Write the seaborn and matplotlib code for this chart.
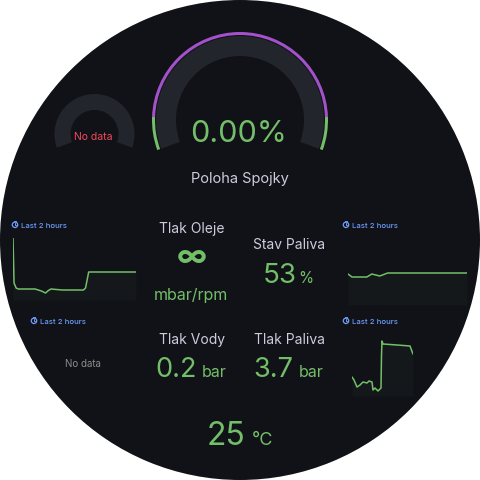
import numpy as np
import pandas as pd
import matplotlib
matplotlib.use("Agg")
import matplotlib.pyplot as plt
import seaborn as sns
from matplotlib.patches import Wedge, Circle

# ---- data -------------------------------------------------------------
clutch_value = 0.0          # Poloha Spojky, %
clutch_min, clutch_max = 0, 100
clutch_thresholds = [0, 10, 90]          # step starts
clutch_colors = ["#73bf69", "#a352cc", "#73bf69"]

oil_t = [3, 4, 6, 8, 24, 30, 34, 36, 39, 50, 70, 72, 75, 120]
oil_v = [62, 17, 12, 11, 11, 9, 7, 9, 11, 10, 10, 12, 28, 28]

fuel_t = [0, 4, 19, 24, 32, 40, 120]
fuel_v = [31, 28, 28, 31, 29, 32, 32]

fuelp_t = [0, 2, 5, 8, 11, 15, 17, 20, 21, 23, 26, 27, 29, 29.5, 30, 31, 45, 58, 61]
fuelp_v = [19, 16, 9, 11, 14, 13, 15, 14, 6, 8, 5, 6, 8, 41, 55, 52, 51, 50, 42]

stat_titles = ["Tlak Oleje", "Stav Paliva", "Tlak Vody", "Tlak Paliva"]
stat_values = ["∞", "53", "0.2", "3.7"]
stat_units = ["mbar/rpm", "%", "bar", "bar"]
temp_value, temp_unit = "25", "°C"

# ---- style ------------------------------------------------------------
BG = "#111217"
TRACK = "#22252b"
GREEN = "#73bf69"
TEXT = "#ccccdc"
BLUE = "#6e9fff"
RED = "#f2495c"

sns.set_theme(style="dark")
plt.rcParams["font.family"] = ["Inter", "DejaVu Sans"]

W = H = 480
fig = plt.figure(figsize=(4.8, 4.8), dpi=100, facecolor="white")
ax = fig.add_axes([0, 0, 1, 1])
ax.set_xlim(0, W)
ax.set_ylim(H, 0)
ax.axis("off")
ax.add_patch(Circle((240, 240), 240, color=BG, zorder=0))


def px_rect(x0, y0, x1, y1):
    return [x0 / W, 1 - y1 / H, (x1 - x0) / W, (y1 - y0) / H]


def gauge(cx, cy, r, track_w, start=-20, end=200, band=None, value=None):
    # angles are visual (ccw, y up); axis y is inverted so negate
    def ang(v):
        return end - (v - clutch_min) / (clutch_max - clutch_min) * (end - start)

    inner_r = r
    if band:
        bounds = clutch_thresholds + [clutch_max]
        for i, col in enumerate(clutch_colors):
            a0, a1 = ang(bounds[i]), ang(bounds[i + 1])
            ax.add_patch(Wedge((cx, cy), r, -a0, -a1, width=band, color=col, lw=0))
        inner_r = r - band - 1
    ax.add_patch(Wedge((cx, cy), inner_r, -end, -start, width=track_w, color=TRACK, lw=0))
    if value is not None and value > clutch_min:
        ax.add_patch(Wedge((cx, cy), inner_r, -ang(clutch_min), -ang(value),
                           width=track_w, color=GREEN, lw=0))


def sparkline(box, t, v, ymax, xmax):
    sax = fig.add_axes(px_rect(*box))
    sax.patch.set_alpha(0)
    df = pd.DataFrame({"t": t, "v": v})
    sns.lineplot(data=df, x="t", y="v", ax=sax, color=GREEN, lw=1.1)
    sax.fill_between(t, v, 0, color=GREEN, alpha=0.04, lw=0)
    sax.set_xlim(min(t), xmax)
    sax.set_ylim(0, ymax)
    sax.axis("off")


def last2h(x, y):
    # clock icon (no installed font has the stopwatch glyph)
    ax.add_patch(Circle((x + 3, y - 3.2), 2.7, fill=False, ec=BLUE, lw=0.9))
    ax.plot([x + 3, x + 3, x + 4.3], [y - 4.8, y - 3.2, y - 3.2], color=BLUE, lw=0.7)
    ax.plot([x + 2.2, x + 3.8], [y - 6.6, y - 6.6], color=BLUE, lw=0.7)
    ax.text(x + 9, y, "Last 2 hours", color=BLUE, fontsize=5.6, va="baseline", ha="left",
            fontweight="medium")


# ---- gauges -----------------------------------------------------------
gauge(240, 120, 88, 20, band=3, value=clutch_value)
ax.text(239, 142, f"{clutch_value:.2f}%", color=GREEN, fontsize=22, ha="center", va="baseline")
ax.text(240, 183, "Poloha Spojky", color=TEXT, fontsize=10.5, ha="center", va="baseline")

gauge(94.5, 134, 40, 16)
ax.text(93, 140, "No data", color=RED, fontsize=7.5, ha="center", va="baseline")

# ---- sparklines -------------------------------------------------------
last2h(12, 228)
sparkline((13, 238, 136, 300), oil_t, oil_v, 62, 120)
last2h(343, 228)
sparkline((348, 238, 467, 305), fuel_t, fuel_v, 67, 120)
last2h(31, 324)
ax.text(83, 367, "No data", color="#8e8e8e", fontsize=7, ha="center", va="baseline")
last2h(343, 324)
sparkline((352, 340, 413, 396), fuelp_t, fuelp_v, 56, 61)

# ---- stats ------------------------------------------------------------
ax.text(192, 233, stat_titles[0], color=TEXT, fontsize=10, ha="center", va="baseline")
ax.text(192, 258, stat_values[0], color=GREEN, fontsize=22, ha="center", va="center",
        fontweight="bold")
ax.text(191, 300, stat_units[0], color=GREEN, fontsize=11.5, ha="center", va="baseline")

ax.text(289, 249, stat_titles[1], color=TEXT, fontsize=10, ha="center", va="baseline")
ax.text(297, 283, stat_values[1], color=GREEN, fontsize=20, ha="right", va="baseline")
ax.text(298, 283, stat_units[1], color=GREEN, fontsize=11, ha="left", va="baseline")

ax.text(192, 344, stat_titles[2], color=TEXT, fontsize=10, ha="center", va="baseline")
ax.text(197, 377, stat_values[2], color=GREEN, fontsize=19.5, ha="right", va="baseline")
ax.text(202, 377, stat_units[2], color=GREEN, fontsize=11.5, ha="left", va="baseline")

ax.text(289, 344, stat_titles[3], color=TEXT, fontsize=10, ha="center", va="baseline")
ax.text(293, 377, stat_values[3], color=GREEN, fontsize=19.5, ha="right", va="baseline")
ax.text(299, 377, stat_units[3], color=GREEN, fontsize=11.5, ha="left", va="baseline")

ax.text(245, 445, temp_value, color=GREEN, fontsize=23, ha="right", va="baseline")
ax.text(252, 445, temp_unit, color=GREEN, fontsize=13, ha="left", va="baseline")

# ---- round mask -------------------------------------------------------
mask = fig.add_axes([0, 0, 1, 1])
mask.set_xlim(0, W)
mask.set_ylim(H, 0)
mask.axis("off")
mask.patch.set_alpha(0)
mask.add_patch(Wedge((240, 240), 400, 0, 360, width=160, color="white", lw=0))

fig.savefig("out.png", dpi=100, facecolor="white")
